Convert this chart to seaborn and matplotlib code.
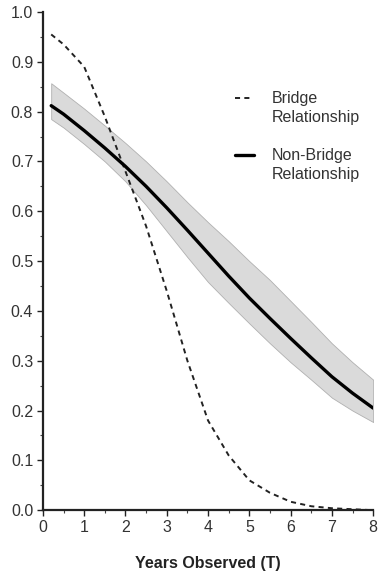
import numpy as np
import pandas as pd
import matplotlib
matplotlib.use("Agg")
import matplotlib.pyplot as plt
import seaborn as sns
from matplotlib.ticker import MultipleLocator
from matplotlib.lines import Line2D

# Data
t_bridge = [0.2, 0.5, 1.0, 1.5, 2.0, 2.5, 3.0, 3.5, 4.0, 4.5, 5.0, 5.5, 6.0, 6.5, 7.0, 7.5, 8.0]
p_bridge = [0.955, 0.935, 0.89, 0.79, 0.68, 0.57, 0.44, 0.30, 0.18, 0.11, 0.06, 0.035, 0.017, 0.008, 0.004, 0.002, 0.0]

t_nonbridge = [0.2, 0.5, 1.0, 1.5, 2.0, 2.5, 3.0, 3.5, 4.0, 4.5, 5.0, 5.5, 6.0, 6.5, 7.0, 7.5, 8.0]
p_nonbridge = [0.812, 0.795, 0.762, 0.727, 0.690, 0.650, 0.607, 0.562, 0.516, 0.470, 0.426, 0.385, 0.345, 0.306, 0.268, 0.235, 0.205]
ci_upper = [0.857, 0.838, 0.806, 0.772, 0.737, 0.700, 0.660, 0.618, 0.578, 0.540, 0.500, 0.462, 0.420, 0.378, 0.335, 0.297, 0.262]
ci_lower = [0.785, 0.768, 0.735, 0.700, 0.660, 0.612, 0.560, 0.508, 0.458, 0.416, 0.375, 0.335, 0.297, 0.262, 0.226, 0.200, 0.177]

x_ticks = [0, 1, 2, 3, 4, 5, 6, 7, 8]
y_ticks = [0.0, 0.1, 0.2, 0.3, 0.4, 0.5, 0.6, 0.7, 0.8, 0.9, 1.0]
label_bridge = "Bridge\nRelationship"
label_nonbridge = "Non-Bridge\nRelationship"
x_label = "Years Observed (T)"

sns.set_style("ticks")
plt.rcParams['font.family'] = ['Liberation Sans', 'DejaVu Sans']

fig = plt.figure(figsize=(3.8, 5.72), dpi=100)
ax = fig.add_axes([0.113, 0.108, 0.869, 0.871])

df_b = pd.DataFrame({"T": t_bridge, "p": p_bridge})
df_n = pd.DataFrame({"T": t_nonbridge, "p": p_nonbridge})

ax.fill_between(t_nonbridge, ci_lower, ci_upper, facecolor="#dadada",
                edgecolor="#b0b0b0", linewidth=0.6, zorder=1)
sns.lineplot(data=df_b, x="T", y="p", ax=ax, color="#222222", linewidth=1.4,
             linestyle=(0, (2.6, 2.2)), legend=False, zorder=3)
sns.lineplot(data=df_n, x="T", y="p", ax=ax, color="#000000", linewidth=2.4,
             legend=False, zorder=4)

ax.set_xlim(0, 8)
ax.set_ylim(0, 1.0)
ax.set_xticks(x_ticks)
ax.set_yticks(y_ticks)
ax.set_xticklabels([str(v) for v in x_ticks])
ax.set_yticklabels([f"{v:.1f}" for v in y_ticks])
ax.xaxis.set_minor_locator(MultipleLocator(0.5))
ax.yaxis.set_minor_locator(MultipleLocator(0.05))

sns.despine(ax=ax)
for s in ["left", "bottom"]:
    ax.spines[s].set_linewidth(1.6)
    ax.spines[s].set_color("#222222")
ax.tick_params(axis="both", which="major", length=4, width=1.0, color="#222222",
               labelsize=11.5, labelcolor="#333333", pad=3)
ax.tick_params(axis="both", which="minor", length=2.5, width=0.8, color="#444444")

ax.set_xlabel(x_label, fontsize=11.5, fontweight="bold", color="#222222", labelpad=15)
ax.set_ylabel("")

# Legend drawn with handles aligned to the first label line, as in the reference
ax.add_line(Line2D([0.582, 0.630], [0.827, 0.827], transform=ax.transAxes,
                   color="#222222", linewidth=1.4, linestyle=(0, (2.6, 2.2))))
ax.add_line(Line2D([0.582, 0.640], [0.713, 0.713], transform=ax.transAxes,
                   color="#000000", linewidth=2.4))
ax.text(0.694, 0.842, label_bridge, transform=ax.transAxes, va="top", ha="left",
        fontsize=11.5, color="#333333", linespacing=1.35)
ax.text(0.694, 0.727, label_nonbridge, transform=ax.transAxes, va="top", ha="left",
        fontsize=11.5, color="#333333", linespacing=1.35)

fig.savefig("out.png", dpi=100, facecolor="white")
